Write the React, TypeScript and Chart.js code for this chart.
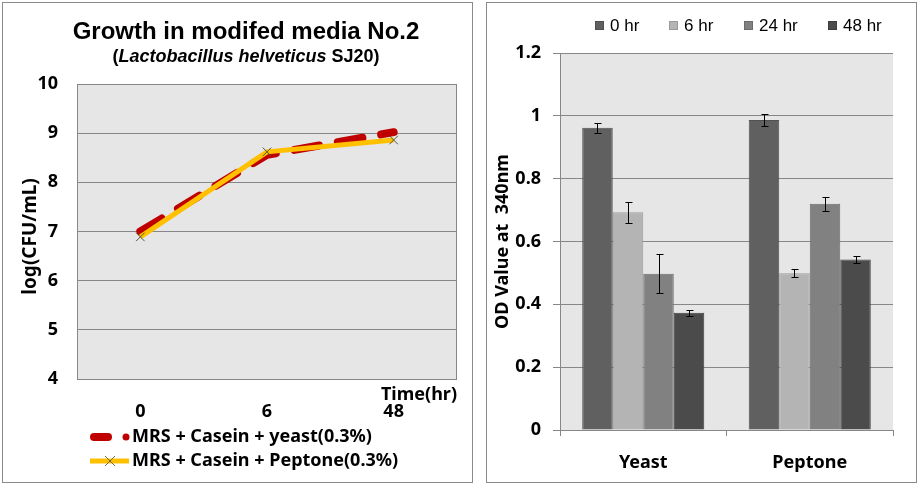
import React, { useEffect, useRef } from "react";
import { Chart, registerables } from "chart.js";

Chart.register(...registerables);

// ---------- Left chart data ----------
const timeLabels = ["0", "6", "48"];
const yeastSeries = [7.0, 8.56, 9.02];
const peptoneSeries = [6.89, 8.62, 8.86];
const yeastLabel = "MRS + Casein + yeast(0.3%)";
const peptoneLabel = "MRS + Casein + Peptone(0.3%)";

// ---------- Right chart data ----------
const mediaCategories = ["Yeast", "Peptone"];
const hourLabels = ["0 hr", "6 hr", "24 hr", "48 hr"];
const hour0 = [0.962, 0.987];
const hour6 = [0.693, 0.499];
const hour24 = [0.497, 0.72];
const hour48 = [0.373, 0.543];
const err0 = [0.016, 0.019];
const err6 = [0.034, 0.013];
const err24 = [0.062, 0.022];
const err48 = [0.009, 0.012];

const BOLD_FONT = "'Noto Sans', 'DejaVu Sans', sans-serif";
const ARIAL = "'Liberation Sans', Arial, sans-serif";
const GRID = "#878787";

const plotBg = (withBorder: boolean) => ({
  id: "plotBg",
  beforeDraw(chart: any) {
    const { ctx, chartArea: a } = chart;
    ctx.save();
    ctx.fillStyle = "#e6e6e6";
    ctx.fillRect(a.left, a.top, a.right - a.left, a.bottom - a.top);
    if (withBorder) {
      ctx.strokeStyle = GRID;
      ctx.lineWidth = 1;
      ctx.strokeRect(a.left + 0.5, a.top + 0.5, a.right - a.left - 1, a.bottom - a.top);
    }
    ctx.restore();
  },
});

function GrowthChart() {
  const ref = useRef<HTMLCanvasElement>(null);
  useEffect(() => {
    const extras = {
      id: "growthExtras",
      afterDraw(chart: any) {
        const { ctx, chartArea: a } = chart;
        ctx.save();
        // Titles
        ctx.fillStyle = "#000";
        ctx.textBaseline = "middle";
        ctx.textAlign = "center";
        ctx.font = `bold 24px ${ARIAL}`;
        ctx.fillText("Growth in modifed media No.2", 246, 32);
        const parts = [
          { t: "(", f: `bold 18px ${ARIAL}` },
          { t: "Lactobacillus helveticus", f: `italic bold 18px ${ARIAL}` },
          { t: " SJ20)", f: `bold 18px ${ARIAL}` },
        ];
        let total = 0;
        parts.forEach((p) => {
          ctx.font = p.f;
          total += ctx.measureText(p.t).width;
        });
        let x = 246 - total / 2;
        ctx.textAlign = "left";
        parts.forEach((p) => {
          ctx.font = p.f;
          ctx.fillText(p.t, x, 57);
          x += ctx.measureText(p.t).width;
        });
        // Axis title "Time(hr)"
        ctx.font = `bold 18px ${BOLD_FONT}`;
        ctx.textAlign = "right";
        ctx.fillText("Time(hr)", a.right, 395);
        // Legend
        const ds = chart.data.datasets;
        // row 1: red dashed + dot
        ctx.lineCap = "round";
        ctx.strokeStyle = ds[0].borderColor;
        ctx.lineWidth = 8;
        ctx.beginPath();
        ctx.moveTo(94, 437);
        ctx.lineTo(108, 437);
        ctx.stroke();
        ctx.fillStyle = ds[0].borderColor;
        ctx.beginPath();
        ctx.arc(126, 437, 3.5, 0, Math.PI * 2);
        ctx.fill();
        // row 2: yellow line + x
        ctx.lineCap = "butt";
        ctx.strokeStyle = ds[1].borderColor;
        ctx.lineWidth = 5;
        ctx.beginPath();
        ctx.moveTo(90, 461);
        ctx.lineTo(129, 461);
        ctx.stroke();
        ctx.strokeStyle = "#6b6b3a";
        ctx.lineWidth = 1;
        ctx.beginPath();
        ctx.moveTo(105, 456);
        ctx.lineTo(115, 466);
        ctx.moveTo(115, 456);
        ctx.lineTo(105, 466);
        ctx.stroke();
        ctx.fillStyle = "#000";
        ctx.textAlign = "left";
        ctx.font = `bold 18px ${BOLD_FONT}`;
        ctx.fillText(ds[0].label, 132, 437);
        ctx.fillText(ds[1].label, 132, 461);
        ctx.restore();
      },
    };
    const chart = new Chart(ref.current!, {
      type: "line",
      data: {
        labels: timeLabels,
        datasets: [
          {
            label: yeastLabel,
            data: yeastSeries,
            borderColor: "#c00000",
            backgroundColor: "#c00000",
            borderWidth: 8,
            borderDash: [25, 19],
            borderCapStyle: "round",
            pointStyle: "circle",
            pointRadius: 3,
            pointBorderWidth: 0,
            pointBackgroundColor: "#c00000",
            pointBorderColor: "#c00000",
            tension: 0,
            order: 1,
          } as any,
          {
            label: peptoneLabel,
            data: peptoneSeries,
            borderColor: "#ffc000",
            backgroundColor: "#ffc000",
            borderWidth: 5,
            pointStyle: "crossRot",
            pointRadius: 6,
            pointBorderColor: "#55553a",
            pointBorderWidth: 1,
            tension: 0,
            order: 0,
          } as any,
        ],
      },
      options: {
        responsive: false,
        animation: false,
        layout: { padding: { top: 84, right: 15, left: 0, bottom: 0 } },
        plugins: {
          legend: { display: false },
          title: { display: false },
          tooltip: { enabled: false },
        },
        scales: {
          x: {
            offset: true,
            grid: { display: false, drawTicks: false },
            border: { display: false },
            ticks: { color: "#000", font: { family: BOLD_FONT, size: 18, weight: "bold" }, padding: 22, maxRotation: 0 },
            afterFit: (s: any) => {
              s.height = 107;
            },
          },
          y: {
            min: 4,
            max: 10,
            ticks: { stepSize: 1, color: "#000", font: { family: BOLD_FONT, size: 18, weight: "bold" }, padding: 19 },
            grid: { color: GRID, drawTicks: false },
            border: { display: false },
            title: {
              display: true,
              text: "log(CFU/mL)  ",
              color: "#000",
              font: { family: BOLD_FONT, size: 19, weight: "bold" },
              padding: { top: 19, bottom: 0 },
            },
            afterFit: (s: any) => {
              s.width = 77;
            },
          },
        } as any,
      },
      plugins: [plotBg(true), extras],
    });
    return () => chart.destroy();
  }, []);
  return (
    <canvas
      ref={ref}
      width={472}
      height={486}
      style={{ position: "absolute", left: 0, top: 0, width: 472, height: 486 }}
    />
  );
}

function ODChart() {
  const ref = useRef<HTMLCanvasElement>(null);
  useEffect(() => {
    const errorBars = {
      id: "errorBars",
      afterDatasetsDraw(chart: any) {
        const { ctx } = chart;
        const y = chart.scales.y;
        ctx.save();
        ctx.strokeStyle = "#000";
        ctx.lineWidth = 1;
        chart.data.datasets.forEach((ds: any, i: number) => {
          const meta = chart.getDatasetMeta(i);
          meta.data.forEach((bar: any, j: number) => {
            const v = ds.data[j];
            const e = ds.errors[j];
            const x = Math.round(bar.x) + 0.5;
            const top = Math.round(y.getPixelForValue(v + e)) + 0.5;
            const bot = Math.round(y.getPixelForValue(v - e)) + 0.5;
            ctx.beginPath();
            ctx.moveTo(x, top);
            ctx.lineTo(x, bot);
            ctx.moveTo(x - 3, top);
            ctx.lineTo(x + 4, top);
            ctx.moveTo(x - 3, bot);
            ctx.lineTo(x + 4, bot);
            ctx.stroke();
          });
        });
        ctx.restore();
      },
    };
    const legend = {
      id: "odLegend",
      afterDraw(chart: any) {
        const { ctx } = chart;
        ctx.save();
        ctx.font = `17px ${ARIAL}`;
        ctx.textBaseline = "middle";
        ctx.textAlign = "left";
        const xs = [123, 197, 272, 356];
        chart.data.datasets.forEach((ds: any, i: number) => {
          const x = xs[i];
          ctx.fillStyle = ds.backgroundColor;
          ctx.fillRect(x, 21, 9, 9);
          ctx.strokeStyle = ds.borderColor;
          ctx.lineWidth = 1;
          ctx.strokeRect(x + 0.5, 21.5, 8, 8);
          ctx.fillStyle = "#000";
          ctx.fillText(ds.label, x + 15, 26);
        });
        ctx.restore();
      },
    };
    const mk = (label: string, data: number[], errors: number[], fill: string, border: string) =>
      ({ label, data, errors, backgroundColor: fill, borderColor: border, borderWidth: 1 } as any);
    const chart = new Chart(ref.current!, {
      type: "bar",
      data: {
        labels: mediaCategories,
        datasets: [
          mk(hourLabels[0], hour0, err0, "#606060", "#505050"),
          mk(hourLabels[1], hour6, err6, "#b4b4b4", "#9a9a9a"),
          mk(hourLabels[2], hour24, err24, "#818181", "#6c6c6c"),
          mk(hourLabels[3], hour48, err48, "#4b4b4b", "#3e3e3e"),
        ],
      },
      options: {
        responsive: false,
        animation: false,
        layout: { padding: { top: 53, right: 25, left: 0, bottom: 0 } },
        datasets: { bar: { categoryPercentage: 0.733, barPercentage: 1 } },
        plugins: {
          legend: { display: false },
          title: { display: false },
          tooltip: { enabled: false },
        },
        scales: {
          x: {
            grid: { drawOnChartArea: false, drawTicks: true, tickLength: 6, color: GRID },
            border: { display: true, color: GRID },
            ticks: { color: "#000", font: { family: BOLD_FONT, size: 18, weight: "bold" }, padding: 16 },
            afterFit: (s: any) => {
              s.height = 56;
            },
          },
          y: {
            min: 0,
            max: 1.2,
            ticks: {
              stepSize: 0.2,
              color: "#000",
              font: { family: BOLD_FONT, size: 18, weight: "bold" },
              padding: 12,
              callback: (v: any) => String(Number(Number(v).toFixed(1))),
            },
            grid: { color: GRID, tickLength: 7 },
            border: { display: true, color: GRID },
            title: {
              display: true,
              text: "OD Value at  340nm",
              color: "#000",
              font: { family: BOLD_FONT, size: 18, weight: "bold" },
              padding: { top: 20, bottom: 0 },
            },
            afterFit: (s: any) => {
              s.width = 88;
            },
          },
        } as any,
      },
      plugins: [plotBg(false), errorBars, legend],
    });
    return () => chart.destroy();
  }, []);
  return (
    <canvas
      ref={ref}
      width={446}
      height={486}
      style={{ position: "absolute", left: 472, top: 0, width: 446, height: 486 }}
    />
  );
}

export default function App() {
  return (
    <div style={{ position: "fixed", left: 0, top: 0, width: 918, height: 486, background: "#fff", overflow: "hidden" }}>
      <GrowthChart />
      <ODChart />
      <div
        style={{
          position: "absolute",
          left: 2,
          top: 2,
          width: 471,
          height: 481,
          boxSizing: "border-box",
          border: "1px solid #8a8a8a",
          pointerEvents: "none",
        }}
      />
      <div
        style={{
          position: "absolute",
          left: 486,
          top: 2,
          width: 431,
          height: 481,
          boxSizing: "border-box",
          border: "1px solid #8a8a8a",
          pointerEvents: "none",
        }}
      />
    </div>
  );
}
